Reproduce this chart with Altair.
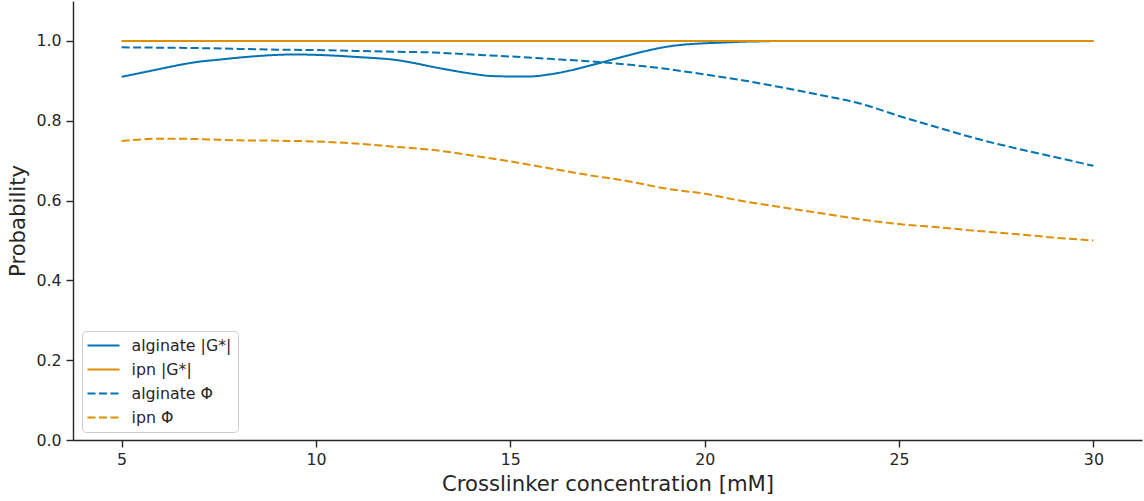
import altair as alt
import pandas as pd

# Crosslinker concentration grids [mM]
conc_fine = [5, 5.5, 6, 6.5, 7, 7.5, 8, 8.5, 9, 9.5, 10, 10.5, 11, 11.5, 12, 12.5,
             13, 13.5, 14, 14.5, 15, 15.5, 16, 16.5, 17, 17.5, 18, 18.5, 19, 19.5,
             20, 20.5, 21, 21.5, 22, 23, 24, 25, 26, 27, 28, 29, 30]
conc = [5, 6, 7, 8, 9, 10, 11, 12, 13, 14, 15, 16, 17, 18, 19, 20,
        21, 22, 23, 24, 25, 26, 27, 28, 29, 30]

# Probabilities per material / quantity
alginate_g = [0.910, 0.920, 0.930, 0.940, 0.948, 0.953, 0.958, 0.962, 0.965, 0.966,
              0.965, 0.963, 0.960, 0.957, 0.953, 0.945, 0.935, 0.926, 0.918, 0.912,
              0.911, 0.911, 0.916, 0.925, 0.937, 0.950, 0.963, 0.975, 0.985, 0.991,
              0.994, 0.996, 0.998, 0.999, 1.0, 1.0, 1.0, 1.0, 1.0, 1.0, 1.0, 1.0, 1.0]
ipn_g = [1.0] * len(conc)
alginate_phi = [0.984, 0.983, 0.982, 0.980, 0.978, 0.977, 0.975, 0.973, 0.971, 0.966,
                0.961, 0.955, 0.949, 0.941, 0.930, 0.916, 0.901, 0.883, 0.864, 0.843,
                0.812, 0.783, 0.755, 0.731, 0.709, 0.687]
ipn_phi = [0.749, 0.755, 0.754, 0.751, 0.750, 0.748, 0.743, 0.735, 0.727, 0.713,
           0.698, 0.681, 0.664, 0.649, 0.630, 0.617, 0.598, 0.583, 0.568, 0.553,
           0.541, 0.533, 0.524, 0.516, 0.507, 0.500]

series_names = ["alginate |G*|", "ipn |G*|", "alginate Φ", "ipn Φ"]
series_colors = ["#0173b2", "#de8f05", "#0173b2", "#de8f05"]
series_dash = [[1, 0], [1, 0], [8, 3.5], [8, 3.5]]

frames = []
for name, xs, ys in [
    (series_names[0], conc_fine, alginate_g),
    (series_names[1], conc, ipn_g),
    (series_names[2], conc, alginate_phi),
    (series_names[3], conc, ipn_phi),
]:
    frames.append(pd.DataFrame({"conc": xs, "prob": ys, "series": name}))
df = pd.concat(frames, ignore_index=True)

text_color = "#262626"

chart = (
    alt.Chart(df)
    .mark_line(strokeWidth=2, interpolate="monotone")
    .encode(
        x=alt.X(
            "conc:Q",
            scale=alt.Scale(domain=[3.75, 31.25], nice=False, zero=False),
            axis=alt.Axis(values=[5, 10, 15, 20, 25, 30], format="d",
                          title="Crosslinker concentration [mM]"),
        ),
        y=alt.Y(
            "prob:Q",
            scale=alt.Scale(domain=[0, 1.1], nice=False),
            axis=alt.Axis(values=[0, 0.2, 0.4, 0.6, 0.8, 1.0], format=".1f",
                          title="Probability"),
        ),
        color=alt.Color(
            "series:N",
            scale=alt.Scale(domain=series_names, range=series_colors),
            sort=series_names,
            title=None,
        ),
        strokeDash=alt.StrokeDash(
            "series:N",
            scale=alt.Scale(domain=series_names, range=series_dash),
            sort=series_names,
            title=None,
        ),
        order=alt.Order("conc:Q"),
    )
    .properties(
        width=1069,
        height=439,
        padding={"left": 73, "top": 1, "right": 2, "bottom": 61},
        autosize=alt.AutoSizeParams(type="none"),
    )
    .configure_view(stroke="transparent")
    .configure_axis(
        grid=False,
        domainColor=text_color,
        domainWidth=1.4,
        tickColor=text_color,
        tickWidth=1.4,
        tickSize=7,
        labelFont="DejaVu Sans",
        labelFontSize=15.8,
        labelColor=text_color,
        labelPadding=5,
        titleFont="DejaVu Sans",
        titleFontSize=21.2,
        titleFontWeight="normal",
        titleColor=text_color,
        titlePadding=7,
    )
    .configure_legend(
        orient="none",
        legendX=9,
        legendY=330,
        padding=6.5,
        fillColor="white",
        strokeColor="#cccccc",
        cornerRadius=4,
        labelFont="DejaVu Sans",
        labelFontSize=15.8,
        labelColor=text_color,
        labelOffset=20,
        symbolType="M-2.2857,0L2.2857,0",
        symbolSize=196,
        symbolStrokeWidth=2,
        symbolOffset=7,
        rowPadding=8,
    )
)

chart.save("out.html", embed_options={"renderer": "svg", "actions": False})
